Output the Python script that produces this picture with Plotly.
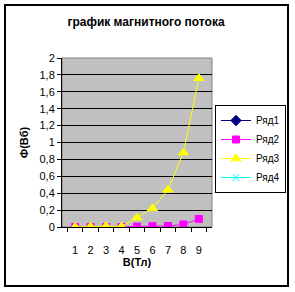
import plotly.graph_objects as go

categories = ["1", "2", "3", "4", "5", "6", "7", "8", "9"]
series_names = ["Ряд1", "Ряд2", "Ряд3", "Ряд4"]
ryad1 = [None] * 9
ryad2 = [0, 0, 0, 0, 0.005, 0.01, 0.012, 0.03, 0.095]
ryad3 = [0, 0.005, 0.01, 0.005, 0.11, 0.22, 0.44, 0.88, 1.76]
ryad4 = [None] * 9
y_ticks = [0, 0.2, 0.4, 0.6, 0.8, 1.0, 1.2, 1.4, 1.6, 1.8, 2.0]
y_tick_labels = ["0", "0,2", "0,4", "0,6", "0,8", "1", "1,2", "1,4", "1,6", "1,8", "2"]

FONT = "Arial, Liberation Sans, sans-serif"

styles = [
    dict(color="#000080", symbol="diamond", size=8),
    dict(color="#FF00FF", symbol="square", size=7),
    dict(color="#FFFF00", symbol="triangle-up", size=9),
    dict(color="#00FFFF", symbol="x-thin-open", size=7),
]

fig = go.Figure()
for name, vals, st in zip(series_names, [ryad1, ryad2, ryad3, ryad4], styles):
    fig.add_trace(go.Scatter(
        x=categories, y=vals, name=name, mode="lines+markers",
        line=dict(color=st["color"], width=1),
        marker=dict(color=st["color"], symbol=st["symbol"], size=st["size"],
                    line=dict(color=st["color"], width=1)),
    ))

fig.update_layout(
    width=295, height=292,
    margin=dict(l=62, r=83, t=58, b=65, autoexpand=False),
    paper_bgcolor="white",
    plot_bgcolor="#C0C0C0",
    font=dict(family=FONT, size=11, color="black"),
    title=dict(text="<b>график магнитного потока</b>", x=146 / 295, xanchor="center",
               y=1 - 22 / 292, yanchor="middle", font=dict(size=12, family=FONT)),
    showlegend=True,
    legend=dict(x=(286 - 62) / 150, y=(227 - 105) / 169, xanchor="right", yanchor="top",
                bordercolor="black", borderwidth=1, bgcolor="white",
                font=dict(size=10, family=FONT), itemwidth=30,
                tracegroupgap=0),
    xaxis=dict(type="category", tickson="boundaries", ticks="outside", ticklen=4,
               tickcolor="black", showline=True, linecolor="black", linewidth=1,
               showgrid=False, zeroline=False, tickangle=0, ticklabelstandoff=13,
               title=dict(text="<b>В(Тл)</b>", font=dict(size=11), standoff=3),
               tickfont=dict(size=11)),
    yaxis=dict(range=[0, 2], tickvals=y_ticks, ticktext=y_tick_labels,
               ticks="outside", ticklen=4, tickcolor="black",
               showline=True, linecolor="black", linewidth=1,
               showgrid=True, gridcolor="black", gridwidth=1, zeroline=False,
               title=dict(text="<b>Ф(Вб)</b>", font=dict(size=11), standoff=8),
               tickfont=dict(size=11)),
)

# plot-area border
fig.add_shape(type="rect", xref="paper", yref="paper", x0=0, y0=0, x1=1, y1=1,
              line=dict(color="#808080", width=1), layer="below")
# outer chart border
fig.add_shape(type="rect", xref="paper", yref="paper",
              x0=(5 - 62) / 150, x1=(288 - 62) / 150,
              y0=(227 - 286) / 169, y1=(227 - 5) / 169,
              line=dict(color="black", width=2))

fig.write_html("out.html")
